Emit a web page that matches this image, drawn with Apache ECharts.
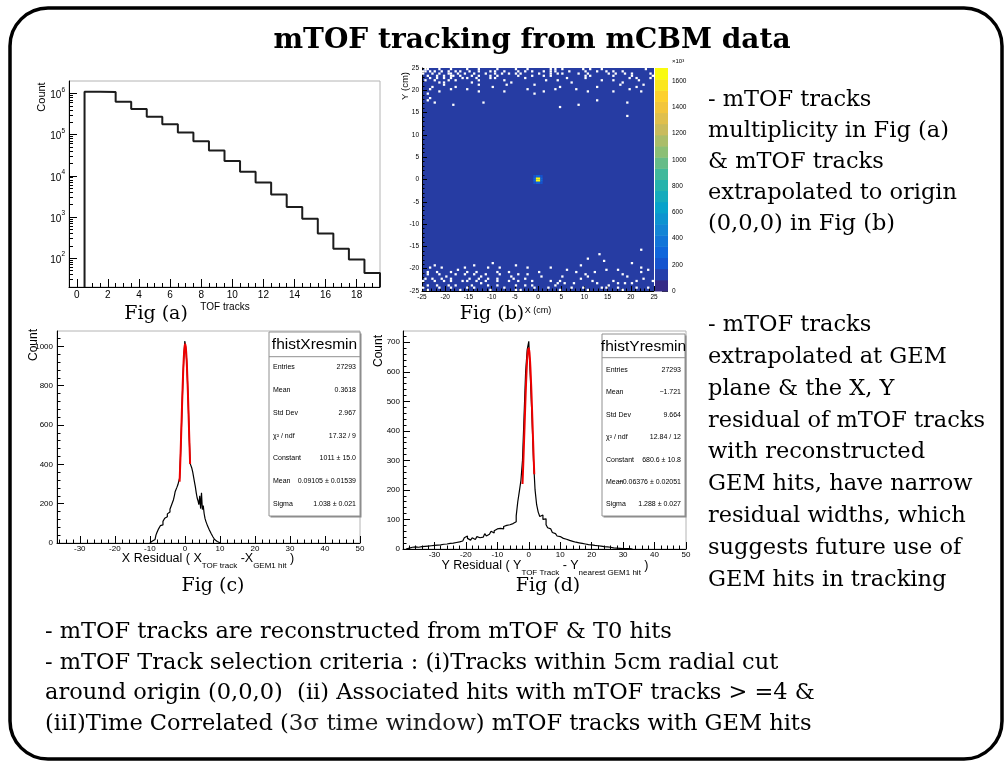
<!DOCTYPE html>
<html>
<head>
<meta charset="utf-8">
<script src="https://cdn.jsdelivr.net/npm/echarts@6.0.0/dist/echarts.min.js"></script>
<style>
  html, body { margin: 0; padding: 0; background: #fff; }
  #poster { width: 1006px; height: 765px; }
</style>
</head>
<body>
<div id="poster"></div>
<script>
// ---------------- Fig (a): mTOF track multiplicity ----------------
const multBinLow = 0.5;             // first filled bin starts at 0.5 (bins are centred on integers)
const multBinWidth = 1;
const multCounts = [1.1e6, 1.08e6, 6.3e5, 4.2e5, 2.7e5, 1.78e5, 1.12e5, 6.9e4, 4.1e4, 2.3e4,
                    1.25e4, 6.9e3, 3.5e3, 1.75e3, 910, 400, 170, 93, 44];
const multTicks = [0, 2, 4, 6, 8, 10, 12, 14, 16, 18];
const multLogTicks = [1e2, 1e3, 1e4, 1e5, 1e6];
const multCountFloor = 20;
const multCountCeil = 2e6;

// ---------------- Fig (b): tracks extrapolated to the origin ----------------
const xyBinSize = 0.5;   // cm
const xyTicks = [-25, -20, -15, -10, -5, 0, 5, 10, 15, 20, 25];
// empty bins (zero entries) given as [row index iy, [column indices ix]]
const emptyRowsTop = [
  [99, [1, 2, 7, 12, 19, 24, 32, 40, 45, 55, 57, 60, 69, 72, 77, 96]],
  [98, [0, 1, 3, 5, 8, 11, 14, 16, 20, 24, 29, 31, 35, 41, 44, 47, 52, 55, 57, 63, 70, 75, 79, 82, 86]],
  [97, [0, 4, 7, 11, 12, 15, 18, 22, 27, 31, 34, 37, 40, 42, 50, 55, 58, 60, 67, 71, 80, 83, 87, 90, 98]],
  [96, [2, 6, 9, 12, 13, 16, 21, 24, 29, 32, 41, 47, 52, 55, 70, 72, 82, 90, 99]],
  [95, [3, 6, 9, 12, 17, 19, 23, 29, 31, 44, 62, 70, 89, 92, 98]],
  [94, [1, 5, 11, 14, 24, 35, 53, 58, 77, 82, 93]],
  [93, [7, 9, 21, 38, 64, 86]],
  [92, [9, 24, 36, 48, 85, 95]],
  [91, [4, 14, 30, 59, 75, 92]],
  [90, [3, 12, 19, 45, 57, 66, 89]],
  [89, [7, 24, 35, 52, 71, 82, 94]],
  [88, [2, 48]],
  [86, [3]],
  [85, [2, 75]],
  [84, [5, 26, 88]],
  [83, [13, 67]],
  [82, [59]],
  [78, [88]]
];
const emptyRowsBottom = [
  [0, [2, 16, 29, 40, 42, 59, 71, 86]],
  [1, [0, 7, 12, 19, 22, 35, 48, 54, 64, 69, 77, 79, 84, 92, 97]],
  [2, [2, 6, 11, 14, 21, 28, 32, 40, 44, 47, 57, 80]],
  [3, [25, 58, 61, 65, 75, 84, 87, 90]],
  [4, [0, 5, 9, 12, 17, 19, 23, 27, 32, 37, 41, 47, 55, 59, 73, 82, 92, 99]],
  [5, [1, 4, 8, 12, 20, 24, 28, 32, 39, 44, 68, 95]],
  [6, [10, 25, 38, 51, 60, 71, 88]],
  [7, [2, 7, 14, 18, 22, 27, 33, 41, 45, 70, 86]],
  [8, [2, 6, 12, 19, 23, 32, 37, 50, 66, 74, 94]],
  [9, [15, 62, 79, 84, 97]],
  [10, [3, 8, 18, 28, 33, 45, 55, 94]],
  [11, [5, 22, 40, 68]],
  [12, [30, 90]],
  [13, [78]],
  [14, [71]],
  [16, [76]],
  [18, [94]]
];
// filled bins around (0,0): [x centre, y centre, counts x10^3]
const originBins = [
  [-0.25, -0.25, 1650], [0.25, -0.25, 1640], [-0.25, 0.25, 1700], [0.25, 0.25, 1660],
  [-0.75, -0.25, 300], [-0.75, 0.25, 310], [0.75, -0.25, 290], [0.75, 0.25, 300],
  [-0.25, -0.75, 280], [0.25, -0.75, 290], [-0.25, 0.75, 300], [0.25, 0.75, 295],
  [-0.75, -0.75, 180], [0.75, -0.75, 175], [-0.75, 0.75, 185], [0.75, 0.75, 180]
];
const zTicks = [0, 200, 400, 600, 800, 1000, 1200, 1400, 1600];
const zMax = 1700;

// ---------------- Fig (c): X residual ----------------
const xResLow = -10;
const xResBinWidth = 0.25;
const xResCounts = [
  2, 5, 10, 14, 20, 18, 28, 40, 52, 60, 72, 78, 88, 98, 92, 110, 118, 126, 120, 134,
  148, 140, 158, 172, 182, 196, 205, 220, 240, 262, 272, 284, 296, 305, 330, 440, 575, 720, 858, 960,
  1027, 990, 930, 820, 690, 540, 405, 395, 380, 360, 335, 310, 285, 255, 230, 215, 195, 240, 175, 255,
  170, 190, 150, 125, 110, 100, 86, 76, 66, 58, 48, 40, 32, 25, 18, 12, 8, 4, 2, 1
];
const xFitX = [-1.5, -1.25, -1, -0.75, -0.5, -0.25, 0, 0.1, 0.25, 0.5, 0.75, 1, 1.25, 1.5];
const xFitY = [312, 439, 582, 728, 860, 958, 1007, 1011, 999, 935, 826, 689, 542, 402];
const xResTicks = [-30, -20, -10, 0, 10, 20, 30, 40, 50];
const xResCountTicks = [0, 200, 400, 600, 800, 1000];
const xResCountMax = 1078;

// ---------------- Fig (d): Y residual ----------------
const yResLow = -39;
const yResBinWidth = 0.5;
const yResCounts = [
  1, 3, 4, 6, 5, 7, 8, 6, 9, 8,
  10, 9, 12, 10, 13, 11, 14, 12, 15, 13,
  16, 14, 18, 16, 19, 17, 21, 19, 23, 20,
  24, 22, 26, 24, 28, 27, 33, 38, 44, 36,
  30, 34, 38, 32, 36, 42, 38, 44, 40, 46,
  52, 44, 50, 56, 60, 54, 62, 68, 64, 70,
  74, 68, 76, 80, 74, 82, 78, 86, 84, 92,
  112, 160, 195, 232, 300, 450, 600, 675, 703, 580,
  450, 300, 200, 150, 125, 110, 115, 100, 102, 82,
  72, 68, 62, 56, 52, 48, 44, 42, 38, 36,
  34, 33, 30, 29, 27, 26, 24, 23, 22, 21,
  20, 19, 18, 17, 16, 15, 14, 14, 13, 12,
  12, 11, 10, 10, 9, 8, 8, 7, 6, 6,
  5, 4, 4, 3, 3, 2, 2, 1, 1, 1,
  0, 1, 0, 0
];
const yFitX = [-2, -1.75, -1.5, -1.25, -1, -0.75, -0.5, -0.25, 0, 0.25, 0.5, 0.75, 1, 1.25, 1.5, 1.75];
const yFitY = [220, 289, 366, 445, 523, 591, 643, 674, 680, 661, 618, 557, 484, 405, 326, 253];
const yResTicks = [-30, -20, -10, 0, 10, 20, 30, 40, 50];
const yResCountTicks = [0, 100, 200, 300, 400, 500, 600, 700];
const yResCountMax = 738;

// ---------------- statistics boxes ----------------
const statsX = [['Entries', '27293'], ['Mean', '0.3618'], ['Std Dev', '2.967'], ['\u03c7\u00b2 / ndf', '17.32 / 9'],
                ['Constant', '1011 \u00b1 15.0'], ['Mean', '0.09105 \u00b1 0.01539'], ['Sigma', '1.038 \u00b1 0.021']];
const statsY = [['Entries', '27293'], ['Mean', '\u22121.721'], ['Std Dev', '9.664'], ['\u03c7\u00b2 / ndf', '12.84 / 12'],
                ['Constant', '680.6 \u00b1 10.8'], ['Mean', '\u22120.06376 \u00b1 0.02051'], ['Sigma', '1.288 \u00b1 0.027']];

// ---------------- notes ----------------
const notesTopRight = ['- mTOF tracks', 'multiplicity in Fig (a)', '& mTOF tracks', 'extrapolated to origin', '(0,0,0) in Fig (b)'];
const notesMidRight = ['- mTOF tracks', 'extrapolated at GEM', 'plane & the X, Y', 'residual of mTOF tracks',
                       'with reconstructed', 'GEM hits, have narrow', 'residual widths, which',
                       'suggests future use of', 'GEM hits in tracking'];
const notesBottom = ['- mTOF tracks are reconstructed from mTOF & T0 hits',
                     '- mTOF Track selection criteria : (i)Tracks within 5cm radial cut',
                     'around origin (0,0,0)  (ii) Associated hits with mTOF tracks > =4 &'];

// ======================================================================
// kBird-like palette split in 20 contour bands
const birdBands = ['#352a87', '#253fab', '#1554cf', '#1066db', '#1275d8', '#1385d5', '#0d93d0', '#07a2cb',
                   '#15abbc', '#26b3ac', '#41b99b', '#66bc88', '#8bbf75', '#aabd69', '#c9bb5c', '#dfbf4d',
                   '#f2c53c', '#fdd02c', '#fbe61d', '#f9fb0e'];
const bandStep = zMax / birdBands.length;
function zColor(z) {
  if (z <= 0) return '#ffffff';
  return birdBands[Math.min(birdBands.length - 1, Math.floor(z / bandStep))];
}

// histogram outline: vertices at bin low edges, drawn with step 'end'
function stepOutline(low, width, counts, floor) {
  const pts = [[low, floor]];
  counts.forEach((c, i) => pts.push([low + i * width, c]));
  const hi = low + counts.length * width;
  pts.push([hi, counts[counts.length - 1]]);
  pts.push([hi, floor]);
  return pts;
}
function zip(xs, ys) { return xs.map((x, i) => [x, ys[i]]); }
function range(a, b, step, skip) {
  const out = [];
  for (let v = a; v <= b + 1e-9; v += step) {
    const r = Math.round(v * 1000) / 1000;
    if (!skip || !skip.includes(r)) out.push(r);
  }
  return out;
}

const xyCells = [];
[...emptyRowsTop, ...emptyRowsBottom].forEach(([iy, cols]) => {
  cols.forEach(ix => xyCells.push([-25 + (ix + 0.5) * xyBinSize, -25 + (iy + 0.5) * xyBinSize, 0]));
});
originBins.forEach(b => xyCells.push(b));

const logMinor = [];
for (let e = 1; e <= 6; e++) for (let k = 2; k <= 9; k++) {
  const v = k * Math.pow(10, e);
  if (v > multCountFloor && v < multCountCeil) logMinor.push(v);
}

const SANS = 'Liberation Sans';
const SERIF = 'DejaVu Serif';

function axis(o) {
  return {
    type: o.type || 'value', gridIndex: o.grid, min: o.min, max: o.max, position: o.position,
    logBase: 10, show: o.show !== false,
    axisLine: { show: !!o.line, onZero: false, lineStyle: { color: '#000', width: 1 } },
    axisTick: { show: !!o.ticks, inside: true, length: o.tickLen || 7, customValues: o.ticks,
                lineStyle: { color: o.tickColor || '#000', width: 1 } },
    axisLabel: { show: !!o.labels, customValues: o.labels, margin: o.margin || 4, fontFamily: SANS,
                 fontSize: o.fontSize || 8, color: '#000', formatter: o.formatter || (v => String(v)), rich: o.rich },
    splitLine: { show: false }, minorTick: { show: false }, minorSplitLine: { show: false }
  };
}

const grids = [
  { left: 69, top: 81, width: 311, height: 206, show: true, borderColor: '#b4b4b4', borderWidth: 1 },
  { left: 422, top: 68, width: 232, height: 223, show: true, backgroundColor: '#263ca3', borderWidth: 0 },
  { left: 655, top: 68, width: 13, height: 223 },
  { left: 57, top: 331, width: 303, height: 212, show: true, borderColor: '#b4b4b4', borderWidth: 1 },
  { left: 403, top: 331, width: 283, height: 218, show: true, borderColor: '#b4b4b4', borderWidth: 1 }
].map(g => Object.assign({ outerBoundsMode: 'none', containLabel: false }, g));

const xAxes = [
  axis({ grid: 0, min: -0.5, max: 19.5, line: true, ticks: multTicks, labels: multTicks, tickLen: 8, fontSize: 10, margin: 3 }),
  axis({ grid: 0, min: -0.5, max: 19.5, position: 'bottom', ticks: range(0.5, 19, 0.5, multTicks), tickLen: 4 }),
  axis({ grid: 1, min: -25, max: 25, line: true, ticks: xyTicks, labels: xyTicks, tickLen: 5, fontSize: 6.5, margin: 3 }),
  axis({ grid: 1, min: -25, max: 25, position: 'bottom', ticks: range(-24, 24, 1, xyTicks), tickLen: 2.5 }),
  axis({ grid: 2, min: 0, max: 1, show: false }),
  axis({ grid: 3, min: -36.5, max: 50, line: true, ticks: xResTicks, labels: xResTicks, tickLen: 7, fontSize: 8, margin: 2 }),
  axis({ grid: 3, min: -36.5, max: 50, position: 'bottom', ticks: range(-36, 50, 2, xResTicks), tickLen: 3.5 }),
  axis({ grid: 4, min: -40, max: 50, line: true, ticks: yResTicks, labels: yResTicks, tickLen: 7, fontSize: 8, margin: 2 }),
  axis({ grid: 4, min: -40, max: 50, position: 'bottom', ticks: range(-38, 50, 2, yResTicks), tickLen: 3.5 })
];

const yAxes = [
  axis({ grid: 0, type: 'log', min: multCountFloor, max: multCountCeil, line: true, ticks: multLogTicks,
         labels: multLogTicks, tickLen: 8, margin: 4,
         formatter: v => '{b|10}{e|' + Math.round(Math.log10(v)) + '}',
         rich: { b: { fontSize: 10, fontFamily: SANS, verticalAlign: 'bottom', lineHeight: 14 },
                 e: { fontSize: 6.5, fontFamily: SANS, verticalAlign: 'top', lineHeight: 14 } } }),
  axis({ grid: 0, type: 'log', min: multCountFloor, max: multCountCeil, position: 'left', ticks: logMinor, tickLen: 4 }),
  axis({ grid: 1, min: -25, max: 25, line: true, ticks: xyTicks, labels: xyTicks, tickLen: 5, fontSize: 6.5, margin: 3 }),
  axis({ grid: 1, min: -25, max: 25, position: 'left', ticks: range(-24, 24, 1, xyTicks), tickLen: 2.5 }),
  axis({ grid: 2, min: 0, max: zMax, position: 'right', ticks: zTicks, labels: zTicks, tickLen: 6, tickColor: '#333', fontSize: 6.5, margin: 4 }),
  axis({ grid: 3, min: 0, max: xResCountMax, line: true, ticks: xResCountTicks, labels: xResCountTicks, tickLen: 7, fontSize: 8, margin: 4 }),
  axis({ grid: 3, min: 0, max: xResCountMax, position: 'left', ticks: range(40, 1060, 40, xResCountTicks), tickLen: 3.5 }),
  axis({ grid: 4, min: 0, max: yResCountMax, line: true, ticks: yResCountTicks, labels: yResCountTicks, tickLen: 7, fontSize: 8, margin: 3 }),
  axis({ grid: 4, min: 0, max: yResCountMax, position: 'left', ticks: range(20, 720, 20, yResCountTicks), tickLen: 3.5 })
];

const series = [
  { type: 'line', xAxisIndex: 0, yAxisIndex: 0, step: 'end', symbol: 'none', animation: false,
    lineStyle: { color: '#1c1c1c', width: 2 }, data: stepOutline(multBinLow, multBinWidth, multCounts, multCountFloor) },
  { type: 'custom', xAxisIndex: 2, yAxisIndex: 2, animation: false, encode: { x: 0, y: 1 }, data: xyCells,
    renderItem(params, api) {
      const x = api.value(0), y = api.value(1), z = api.value(2), h = xyBinSize / 2;
      const p0 = api.coord([x - h, y + h]), p1 = api.coord([x + h, y - h]);
      return { type: 'rect', shape: { x: p0[0], y: p0[1], width: p1[0] - p0[0], height: p1[1] - p0[1] },
               style: { fill: zColor(z) } };
    } },
  { type: 'custom', xAxisIndex: 4, yAxisIndex: 4, animation: false, encode: { x: 0, y: 1 },
    data: birdBands.map((c, i) => [0, i * bandStep]),
    renderItem(params, api) {
      const lo = api.value(1);
      const p0 = api.coord([0, lo + bandStep]), p1 = api.coord([1, lo]);
      return { type: 'rect', shape: { x: p0[0], y: p0[1], width: p1[0] - p0[0], height: p1[1] - p0[1] + 0.5 },
               style: { fill: birdBands[params.dataIndex] } };
    } },
  { type: 'line', xAxisIndex: 5, yAxisIndex: 5, step: 'end', symbol: 'none', animation: false,
    lineStyle: { color: '#000', width: 1.2 }, data: stepOutline(xResLow, xResBinWidth, xResCounts, 0) },
  { type: 'line', xAxisIndex: 5, yAxisIndex: 5, smooth: 0.3, symbol: 'none', animation: false, z: 3,
    lineStyle: { color: '#ee0000', width: 2 }, data: zip(xFitX, xFitY) },
  { type: 'line', xAxisIndex: 7, yAxisIndex: 7, step: 'end', symbol: 'none', animation: false,
    lineStyle: { color: '#000', width: 1.2 }, data: stepOutline(yResLow, yResBinWidth, yResCounts, 0) },
  { type: 'line', xAxisIndex: 7, yAxisIndex: 7, smooth: 0.3, symbol: 'none', animation: false, z: 3,
    lineStyle: { color: '#ee0000', width: 2 }, data: zip(yFitX, yFitY) }
];

// ---------------- text and frames ----------------
function txt(x, y, text, font, extra) {
  return Object.assign({ type: 'text', x, y, silent: true,
    style: Object.assign({ text, font, fill: '#000', align: 'left', verticalAlign: 'middle' }, (extra && extra.style) || {}) },
    extra && extra.el || {});
}

function statsBox(x, y, w, h, titleH, title, rows, row0, rowStep) {
  const els = [
    { type: 'rect', shape: { x: x + 1.5, y: y + 1.5, width: w, height: h }, style: { fill: '#8a8a8a' } },
    { type: 'rect', shape: { x, y, width: w, height: h }, style: { fill: '#fff', stroke: '#909090', lineWidth: 1 } },
    { type: 'line', shape: { x1: x, y1: y + titleH, x2: x + w, y2: y + titleH }, style: { stroke: '#909090', lineWidth: 1 } },
    txt(x + w / 2, y + titleH / 2 + 0.5, title, '15.5px "' + SANS + '"', { style: { align: 'center' } })
  ];
  rows.forEach((r, i) => {
    els.push(txt(x + 4, y + row0 + i * rowStep, r[0], '7px "' + SANS + '"'));
    els.push(txt(x + w - 4, y + row0 + i * rowStep, r[1], '7px "' + SANS + '"', { style: { align: 'right' } }));
  });
  return els;
}

function subscriptTitle(x, y, text) {
  return { type: 'text', x, y, silent: true, style: {
    text, align: 'center', verticalAlign: 'middle',
    rich: { n: { fontSize: 12.5, fontFamily: SANS, lineHeight: 17, verticalAlign: 'top' },
            s: { fontSize: 8, fontFamily: SANS, lineHeight: 17, verticalAlign: 'bottom' } } } };
}

const noteFont = '22.5px "' + SERIF + '"';
const graphics = [
  { type: 'rect', shape: { x: 10, y: 8, width: 992, height: 751, r: 38 }, style: { fill: 'none', stroke: '#000', lineWidth: 3.5 } },
  txt(532, 41, 'mTOF tracking from mCBM data', 'bold 28px "' + SERIF + '"', { style: { align: 'center' } }),
  // axis titles
  txt(41.5, 97, 'Count', '11px "' + SANS + '"', { style: { align: 'center' }, el: { rotation: Math.PI / 2 } }),
  txt(225, 307, 'TOF tracks', '10px "' + SANS + '"', { style: { align: 'center' } }),
  txt(405.5, 86, 'Y (cm)', '9.5px "' + SANS + '"', { style: { align: 'center' }, el: { rotation: Math.PI / 2 } }),
  txt(538, 311, 'X (cm)', '9px "' + SANS + '"', { style: { align: 'center' } }),
  txt(672, 61, '\u00d710\u00b3', '6px "' + SANS + '"'),
  txt(34, 345, 'Count', '12px "' + SANS + '"', { style: { align: 'center' }, el: { rotation: Math.PI / 2 } }),
  txt(379, 351, 'Count', '12px "' + SANS + '"', { style: { align: 'center' }, el: { rotation: Math.PI / 2 } }),
  subscriptTitle(208, 561, '{n|X Residual ( X}{s|TOF track}{n| -X}{s|GEM1 hit}{n| )}'),
  subscriptTitle(545, 568, '{n|Y Residual ( Y}{s|TOF Track}{n| - Y}{s|nearest GEM1 hit}{n| )}'),
  // figure captions
  txt(156, 314, 'Fig (a)', '19px "' + SERIF + '"', { style: { align: 'center' } }),
  txt(492, 314, 'Fig (b)', '19px "' + SERIF + '"', { style: { align: 'center' } }),
  txt(213, 586, 'Fig (c)', '19px "' + SERIF + '"', { style: { align: 'center' } }),
  txt(548, 586, 'Fig (d)', '19px "' + SERIF + '"', { style: { align: 'center' } }),
  ...statsBox(269, 332, 91, 184, 24.7, 'fhistXresmin', statsX, 35.3, 22.8),
  ...statsBox(602, 334, 83, 182, 23.7, 'fhistYresmin', statsY, 36, 22.4)
];
notesTopRight.forEach((t, i) => graphics.push(txt(708, 100 + i * 31, t, noteFont)));
notesMidRight.forEach((t, i) => graphics.push(txt(708, 325 + i * 31.9, t, noteFont)));
notesBottom.forEach((t, i) => graphics.push(txt(45, 632 + i * 30.7, t, noteFont)));
graphics.push({ type: 'text', x: 45, y: 632 + 3 * 30.7, silent: true, style: {
  text: '{a|(iiI)Time Correlated (}{b|3\u03c3 time window}{a|) mTOF tracks with GEM hits}',
  verticalAlign: 'middle', align: 'left',
  rich: { a: { fontSize: 22.5, fontFamily: SERIF, lineHeight: 26 },
          b: { fontSize: 23, fontFamily: SERIF, lineHeight: 26, fill: '#1a1a1a' } } } });

const chart = echarts.init(document.getElementById('poster'), null, { renderer: 'canvas', width: 1006, height: 765 });
chart.setOption({
  backgroundColor: '#ffffff',
  animation: false,
  grid: grids,
  xAxis: xAxes,
  yAxis: yAxes,
  series,
  graphic: { elements: graphics }
});
</script>
</body>
</html>
